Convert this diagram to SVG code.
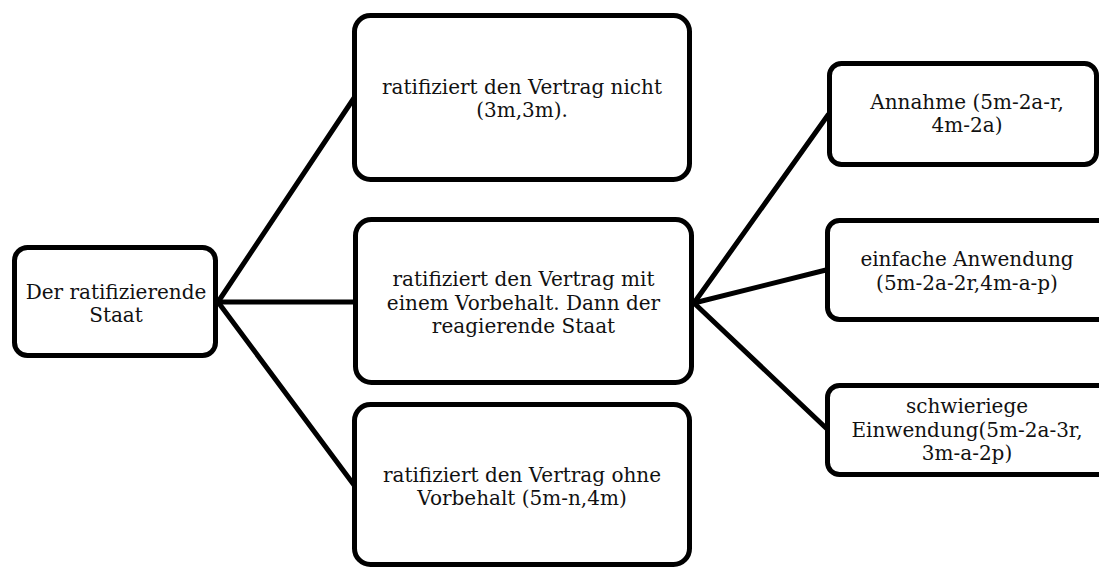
<svg xmlns="http://www.w3.org/2000/svg" width="1099" height="569" viewBox="0 0 1099 569">
<style>
.box{fill:#fff;stroke:#000;stroke-width:5}
.lbl{font-family:"DejaVu Serif","Liberation Serif",serif;font-size:20px;fill:#111;text-anchor:middle}
.edge{stroke:#000;stroke-width:5;fill:none;stroke-linecap:round}
</style>
<rect width="1099" height="569" fill="#fff"/>
<g id="connectors">
<line class="edge" x1="218" y1="302" x2="354" y2="98"/>
<line class="edge" x1="218" y1="302" x2="355" y2="302"/>
<line class="edge" x1="218" y1="302" x2="354" y2="485"/>
<line class="edge" x1="694" y1="303" x2="828" y2="115"/>
<line class="edge" x1="694" y1="303" x2="826" y2="270"/>
<line class="edge" x1="694" y1="303" x2="826" y2="428"/>
</g>
<g id="n-staat">
<rect class="box" x="14.5" y="247.5" width="201" height="108" rx="13"/>
<text class="lbl" x="116" y="299">Der ratifizierende</text>
<text class="lbl" x="116" y="322">Staat</text>
</g>
<g id="n-nicht">
<rect class="box" x="354.5" y="15.5" width="335" height="164" rx="16"/>
<text class="lbl" x="522" y="94">ratifiziert den Vertrag nicht</text>
<text class="lbl" x="522" y="117">(3m,3m).</text>
</g>
<g id="n-mit">
<rect class="box" x="355.5" y="219.5" width="336" height="163" rx="16"/>
<text class="lbl" x="523.5" y="286">ratifiziert den Vertrag mit</text>
<text class="lbl" x="523.5" y="309.5">einem Vorbehalt. Dann der</text>
<text class="lbl" x="523.5" y="333">reagierende Staat</text>
</g>
<g id="n-ohne">
<rect class="box" x="354.5" y="404.5" width="335" height="160" rx="16"/>
<text class="lbl" x="522" y="482">ratifiziert den Vertrag ohne</text>
<text class="lbl" x="522" y="505">Vorbehalt (5m-n,4m)</text>
</g>
<g id="n-annahme">
<rect class="box" x="829.5" y="63.5" width="267" height="101" rx="12"/>
<text class="lbl" x="967" y="109">Annahme (5m-2a-r,</text>
<text class="lbl" x="967" y="132">4m-2a)</text>
</g>
<g id="n-einfach">
<rect class="box" x="827.5" y="220.5" width="290" height="99" rx="12"/>
<text class="lbl" x="967" y="266">einfache Anwendung</text>
<text class="lbl" x="967" y="289.5">(5m-2a-2r,4m-a-p)</text>
</g>
<g id="n-schwierig">
<rect class="box" x="827.5" y="385.5" width="290" height="89" rx="12"/>
<text class="lbl" x="967" y="413">schwieriege</text>
<text class="lbl" x="967" y="436.5">Einwendung(5m-2a-3r,</text>
<text class="lbl" x="967" y="460">3m-a-2p)</text>
</g>
</svg>
